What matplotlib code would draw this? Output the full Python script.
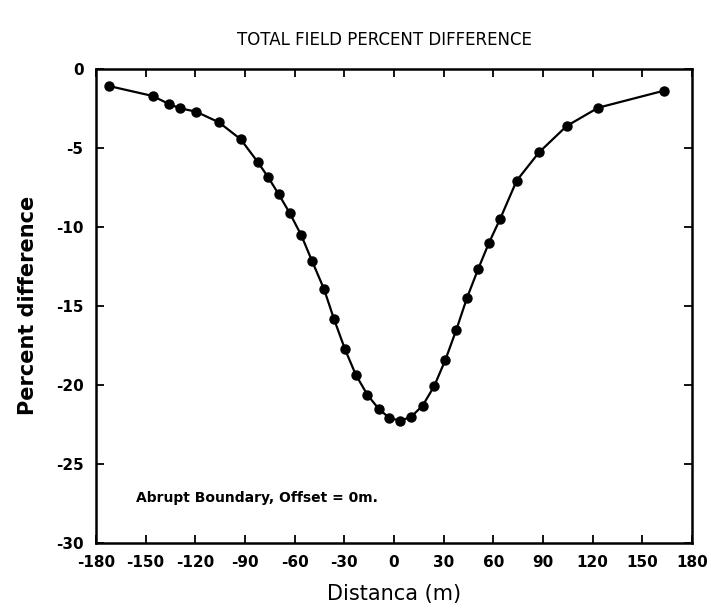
import matplotlib
matplotlib.use("Agg")
import matplotlib.pyplot as plt

distance = [-172.1, -145.7, -135.9, -129.2, -119.6, -105.7, -92.6, -82.3, -76.1, -69.6,
            -63.0, -56.0, -49.5, -42.3, -36.2, -29.6, -23.1, -16.1, -9.2, -3.0,
            3.8, 10.4, 17.3, 24.3, 31.0, 37.6, 44.1, 50.9, 57.4, 64.0,
            74.1, 87.6, 104.3, 123.4, 163.2]
percent_diff = [-1.08, -1.71, -2.22, -2.49, -2.70, -3.38, -4.45, -5.89, -6.84, -7.94,
                -9.12, -10.53, -12.16, -13.93, -15.85, -17.75, -19.36, -20.63, -21.53, -22.08,
                -22.29, -22.02, -21.32, -20.08, -18.43, -16.53, -14.49, -12.65, -11.00, -9.52,
                -7.07, -5.28, -3.61, -2.45, -1.37]

x_ticks = [-180, -150, -120, -90, -60, -30, 0, 30, 60, 90, 120, 150, 180]
y_ticks = [0, -5, -10, -15, -20, -25, -30]

title = "TOTAL FIELD PERCENT DIFFERENCE"
xlabel = "Distanca (m)"
ylabel = "Percent difference"
note = "Abrupt Boundary, Offset = 0m."

plt.rcParams['font.family'] = ['DejaVu Sans']

fig = plt.figure(figsize=(7.11, 6.11), dpi=100)
ax = fig.add_axes([96/711, 1 - 542.7/611, (692-96)/711, (542.7-69)/611])

ax.plot(distance, percent_diff, color='black', linewidth=1.6,
        marker='o', markersize=6.5, markerfacecolor='black', markeredgecolor='black')

ax.set_xlim(-180, 180)
ax.set_ylim(-30, 0)
ax.set_xticks(x_ticks)
ax.set_xticklabels([str(t) for t in x_ticks])
ax.set_yticks(y_ticks)
ax.set_yticklabels([str(t) for t in y_ticks])

ax.tick_params(direction='in', length=6, width=1.3, top=True, right=True,
               labelsize=11, pad=9)
for lab in ax.get_xticklabels() + ax.get_yticklabels():
    lab.set_fontweight('bold')
for s in ax.spines.values():
    s.set_linewidth(1.8)

ax.set_xlabel(xlabel, fontsize=15, labelpad=10)
ax.set_ylabel(ylabel, fontsize=15, fontweight='bold', labelpad=13)
fig.text(0.541, 1 - 40/611, title, ha='center', va='center', fontsize=12)
ax.text(-156, -27.2, note, fontsize=10, fontweight='bold', va='center', ha='left')

fig.savefig("out.png", dpi=100)
